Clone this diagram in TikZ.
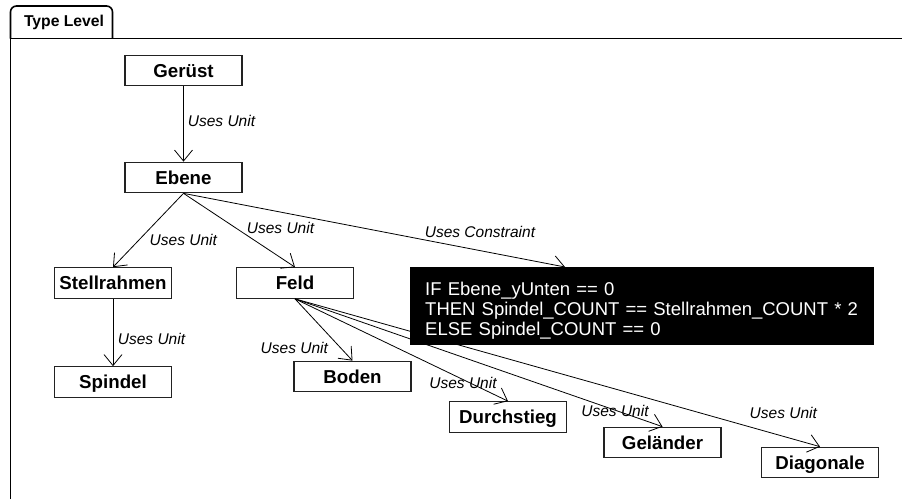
\documentclass[tikz,border=0pt]{standalone}
\usepackage{fontspec}
\setmainfont{Liberation Sans}
\usepackage{xcolor}
\usetikzlibrary{arrows.meta}
\definecolor{ink}{HTML}{000000}
\definecolor{rim}{HTML}{222222}
\definecolor{paper}{HTML}{FFFFFF}
\tikzset{
  frame/.style={draw=ink, line width=1.6pt, line join=round},
  unit/.style={draw=rim, line width=1.2pt, fill=paper, text=ink, inner sep=0pt,
    minimum width=117pt, minimum height=30.5pt, text height=13pt, text depth=0pt,
    font=\fontsize{18.7}{20}\selectfont\bfseries},
  uses/.style={draw=ink, line width=0.8pt, -{Straight Barb[length=11pt, width=18pt, line width=0.8pt]}},
  lab/.style={text=ink, inner sep=0pt, text depth=0pt, font=\fontsize{15.5}{18}\selectfont\itshape},
  rule/.style={fill=ink, text=paper, inner xsep=15pt, inner ysep=0pt, anchor=north west,
    text width=434pt, minimum height=78pt, align=left, text height=13.5pt, text depth=35.5pt,
    font=\fontsize{18.5}{20}\selectfont},
}
\begin{document}
\begin{tikzpicture}[x=1pt, y=-1pt]
\useasboundingbox (0,0) rectangle (902,499);

% package frame with its tab
\draw[frame, rounded corners=6pt] (10.5,38.5) -- (10.5,6) -- (112.5,6) -- (112.5,38.5);
\draw[frame] (10.5,499) -- (10.5,38.5) -- (902,38.5);
\node[inner sep=0pt, text depth=0pt, font=\fontsize{15.7}{18}\selectfont\bfseries] (tab) at (64,21) {Type Level};

% units
\node[unit] (geruest)     at (183.5,70.5)  {Gerüst};
\node[unit] (ebene)       at (183.5,177.5) {Ebene};
\node[unit] (stellrahmen) at (113,283)     {Stellrahmen};
\node[unit] (spindel)     at (113,382)     {Spindel};
\node[unit] (feld)        at (295,283)     {Feld};
\node[unit] (boden)       at (352.5,376.5) {Boden};
\node[unit] (durchstieg)  at (508,417)     {Durchstieg};
\node[unit] (gelaender)   at (662.5,442.5) {Geländer};
\node[unit] (diagonale)   at (820,462.5)   {Diagonale};

\draw[uses] (geruest.south) -- (ebene.north);
\draw[uses] (ebene.south) -- (stellrahmen.north);
\draw[uses] (ebene.south) -- (feld.north);
\draw[uses] (stellrahmen.south) -- (spindel.north);
\draw[uses] (feld.south) -- (boden.north);
\draw[uses] (feld.south) -- (durchstieg.north);
\draw[uses] (feld.south) -- (gelaender.north);
\draw[uses] (feld.south) -- (diagonale.north);

% constraint box sits over the long Feld links
\node[rule] (spindelrule) at (410,267) {IF Ebene\_yUnten == 0\\
THEN Spindel\_COUNT == Stellrahmen\_COUNT * 2\\
ELSE Spindel\_COUNT == 0};
\draw[uses] (ebene.south) -- ([xshift=155pt]spindelrule.north west);

% link labels
\node[lab] (l1) at (221.5,121)   {Uses Unit};
\node[lab] (l2) at (183.3,240)   {Uses Unit};
\node[lab] (l3) at (280.5,227.5) {Uses Unit};
\node[lab] (l4) at (480,232)     {Uses Constraint};
\node[lab] (l5) at (151.5,339)   {Uses Unit};
\node[lab] (l6) at (294.3,347.7) {Uses Unit};
\node[lab] (l7) at (463,383)     {Uses Unit};
\node[lab] (l8) at (615,410.7)   {Uses Unit};
\node[lab] (l9) at (783.3,413)   {Uses Unit};
\end{tikzpicture}
\end{document}
